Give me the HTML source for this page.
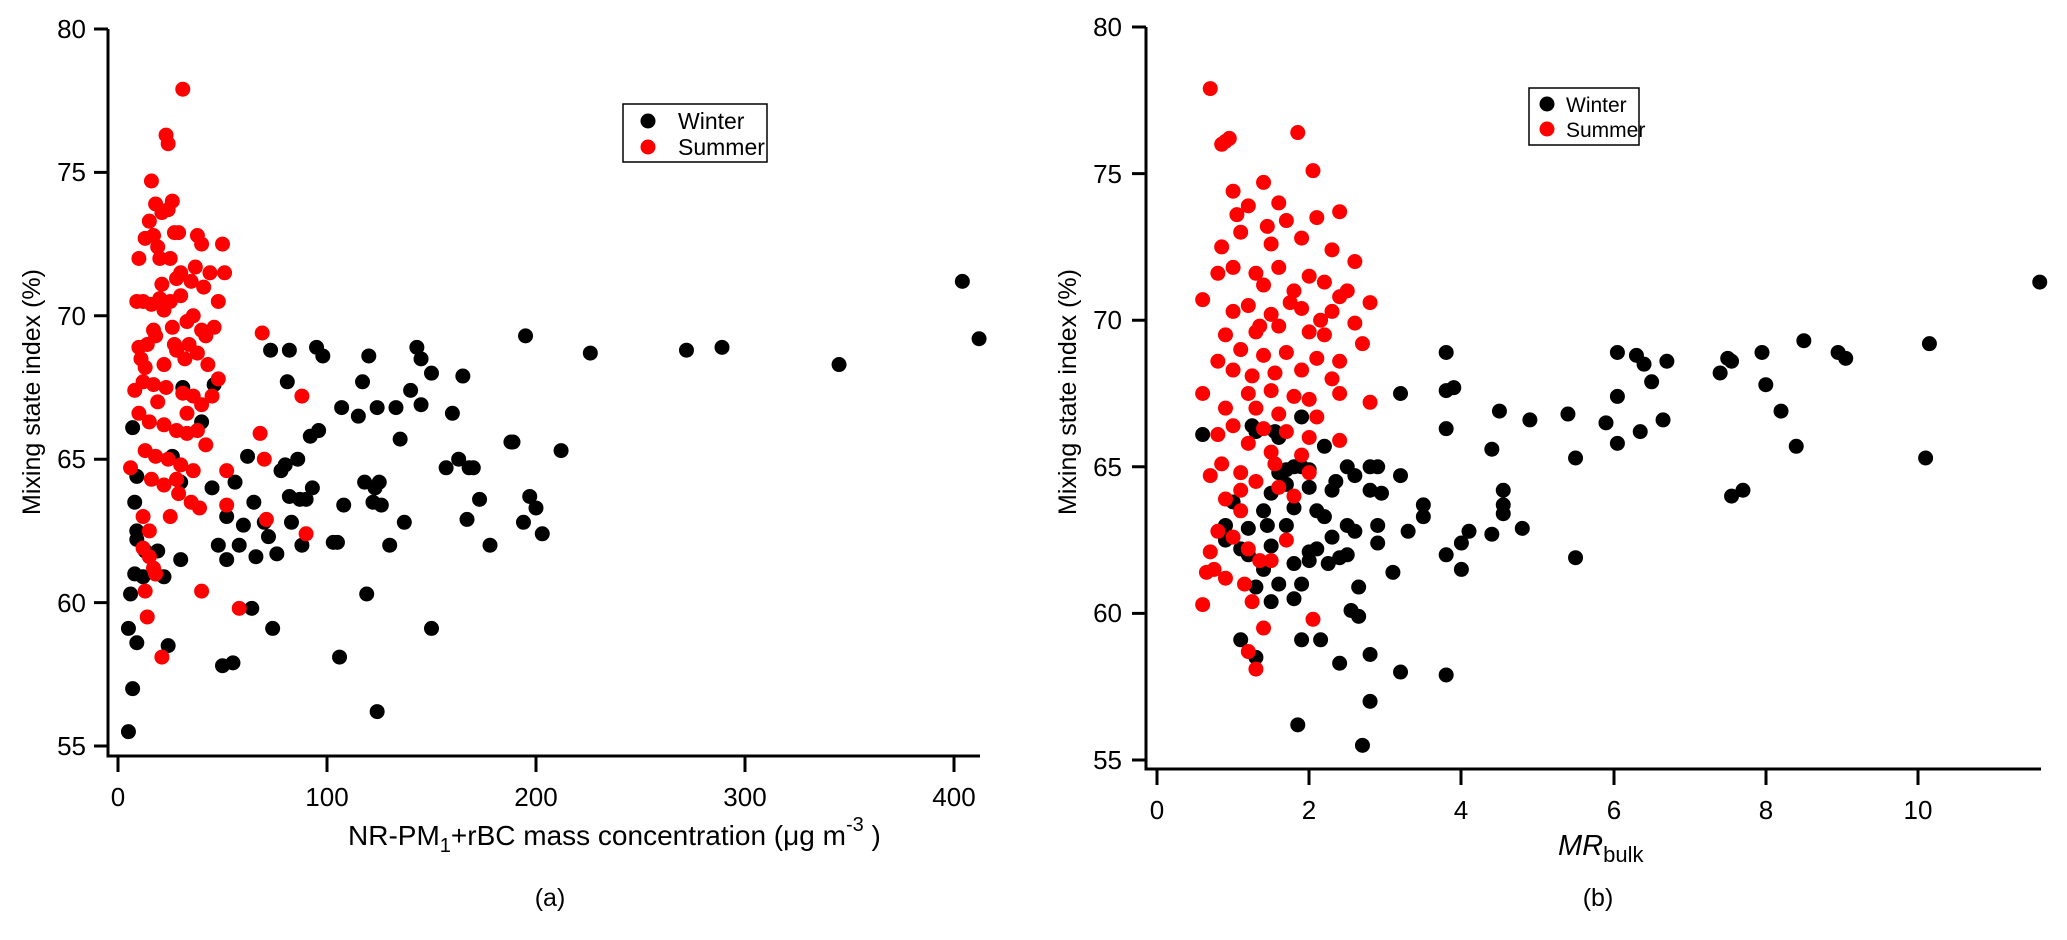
<!DOCTYPE html>
<html><head><meta charset="utf-8"><style>
html,body{margin:0;padding:0;background:#fff;}
svg{display:block;font-family:"Liberation Sans",Arial,sans-serif;}
</style></head><body>
<svg width="2067" height="940" viewBox="0 0 2067 940" xmlns="http://www.w3.org/2000/svg">
<g stroke="#000" stroke-width="3" fill="none">
<path d="M108 29 V756 H980"/>
<path d="M94 29H108M94 172.4H108M94 315.8H108M94 459.2H108M94 602.6H108M94 746H108"/>
<path d="M118 756V772M327 756V772M536 756V772M745 756V772M954 756V772"/>
<path d="M1146 27 V769 H2041"/>
<path d="M1132 27H1146M1132 173.6H1146M1132 320.2H1146M1132 466.8H1146M1132 613.4H1146M1132 760H1146"/>
<path d="M1157 769V785M1309 769V785M1461 769V785M1614 769V785M1766 769V785M1918 769V785"/>
</g>
<g font-size="26" fill="#000" text-anchor="end">
<text x="86" y="38">80</text><text x="86" y="181">75</text><text x="86" y="325">70</text><text x="86" y="468">65</text><text x="86" y="612">60</text><text x="86" y="755">55</text>
<text x="1122" y="36">80</text><text x="1122" y="183">75</text><text x="1122" y="329">70</text><text x="1122" y="476">65</text><text x="1122" y="622">60</text><text x="1122" y="769">55</text>
</g>
<g font-size="26" fill="#000" text-anchor="middle">
<text x="118" y="806">0</text><text x="327" y="806">100</text><text x="536" y="806">200</text><text x="745" y="806">300</text><text x="954" y="806">400</text>
<text x="1157" y="819">0</text><text x="1309" y="819">2</text><text x="1461" y="819">4</text><text x="1614" y="819">6</text><text x="1766" y="819">8</text><text x="1918" y="819">10</text>
</g>
<text x="348" y="845" font-size="28">NR-PM<tspan font-size="20" dy="7">1</tspan><tspan dy="-7">+rBC mass concentration (μg m</tspan><tspan font-size="20" dy="-14">-3</tspan><tspan dy="14"> )</tspan></text>
<text x="1558" y="855" font-size="29" font-style="italic">MR<tspan font-style="normal" font-size="22" dy="7">bulk</tspan></text>
<text x="550" y="906" font-size="25" text-anchor="middle">(a)</text>
<text x="1598" y="906" font-size="25" text-anchor="middle">(b)</text>
<text transform="translate(40 392) rotate(-90)" font-size="25" text-anchor="middle">Mixing state index (%)</text>
<text transform="translate(1076 392) rotate(-90)" font-size="25" text-anchor="middle">Mixing state index (%)</text>

<rect x="623" y="104" width="144" height="58" fill="#fff" stroke="#000" stroke-width="1.5"/>
<circle cx="648" cy="121" r="7.5" fill="#000"/><circle cx="648" cy="147" r="7.5" fill="#f00"/>
<text x="678" y="129" font-size="23">Winter</text><text x="678" y="155" font-size="23">Summer</text>
<rect x="1529" y="88" width="110" height="57" fill="#fff" stroke="#000" stroke-width="1.5"/>
<circle cx="1547" cy="104" r="7.5" fill="#000"/><circle cx="1547" cy="129" r="7.5" fill="#f00"/>
<text x="1566" y="112" font-size="21">Winter</text><text x="1566" y="137" font-size="21">Summer</text>

<g transform="matrix(2.09 0 0 -28.68 118 2323.4)" fill="none" stroke-linecap="round">
<path vector-effect="non-scaling-stroke" stroke="#000" stroke-width="15" d="M5 55.5h0M7 57h0M5 59.1h0M9 58.6h0M6 60.3h0M8 61h0M12 60.9h0M18 61h0M22 60.9h0M30 61.5h0M7 66.1h0M9 64.4h0M8 63.5h0M9 62.5h0M9 62.2h0M13 61.8h0M19 61.8h0M24 58.5h0M26 65.1h0M30 64.2h0M31 67.5h0M40 66.3h0M46 67.6h0M45 64h0M48 62h0M50 57.8h0M52 61.5h0M55 57.9h0M52 63h0M56 64.2h0M58 62h0M60 62.7h0M62 65.1h0M64 59.8h0M66 61.6h0M65 63.5h0M70 62.8h0M72 62.3h0M73 68.8h0M74 59.1h0M76 61.7h0M78 64.6h0M80 64.8h0M82 68.8h0M81 67.7h0M82 63.7h0M83 62.8h0M86 65h0M87 63.6h0M88 62h0M90 63.6h0M92 65.8h0M93 64h0M95 68.9h0M96 66h0M98 68.6h0M103 62.1h0M105 62.1h0M106 58.1h0M107 66.8h0M108 63.4h0M115 66.5h0M117 67.7h0M118 64.2h0M119 60.3h0M120 68.6h0M122 63.5h0M123 64h0M124 56.2h0M125 64.2h0M126 63.4h0M124 66.8h0M130 62h0M133 66.8h0M135 65.7h0M137 62.8h0M140 67.4h0M143 68.9h0M145 66.9h0M145 68.5h0M150 59.1h0M150 68h0M157 64.7h0M160 66.6h0M163 65h0M165 67.9h0M167 62.9h0M168 64.7h0M170 64.7h0M173 63.6h0M178 62h0M188 65.6h0M189 65.6h0M195 69.3h0M194 62.8h0M197 63.7h0M200 63.3h0M203 62.4h0M212 65.3h0M226 68.7h0M272 68.8h0M289 68.9h0M345 68.3h0M404 71.2h0M412 69.2h0"/>
<path vector-effect="non-scaling-stroke" stroke="#f00" stroke-width="15" d="M31 77.9h0M23 76.3h0M24 76h0M16 74.7h0M18 73.9h0M21 73.6h0M24 73.7h0M15 73.3h0M17 72.8h0M13 72.7h0M19 72.4h0M10 72h0M27 72.9h0M38 72.8h0M40 72.5h0M50 72.5h0M51 71.5h0M30 71.5h0M35 71.2h0M28 71.3h0M21 71.1h0M25 70.5h0M20 70.6h0M9 70.5h0M12 70.5h0M16 70.4h0M22 70.2h0M30 70.7h0M36 70h0M40 69.5h0M46 69.6h0M48 70.5h0M33 69.8h0M26 69.6h0M18 69.3h0M14 69h0M10 68.9h0M13 68.2h0M22 68.3h0M28 68.8h0M32 68.5h0M38 68.7h0M43 68.3h0M48 67.8h0M12 67.7h0M17 67.6h0M23 67.5h0M31 67.3h0M36 67.2h0M40 66.9h0M45 67.2h0M8 67.4h0M10 66.6h0M15 66.3h0M22 66.2h0M28 66h0M33 65.9h0M38 66h0M42 65.5h0M13 65.3h0M18 65.1h0M24 65h0M30 64.8h0M36 64.6h0M16 64.3h0M22 64.1h0M29 63.8h0M35 63.5h0M39 63.3h0M6 64.7h0M12 63h0M15 62.5h0M12 61.9h0M15 61.6h0M17 61.2h0M18 61h0M13 60.4h0M14 59.5h0M21 58.1h0M40 60.4h0M58 59.8h0M69 69.4h0M68 65.9h0M70 65h0M52 64.6h0M52 63.4h0M71 62.9h0M88 67.2h0M90 62.4h0M25 72h0M20 72h0M27 69h0M34 69h0M26 74h0M11 68.5h0M19 67h0M25 63h0M44 71.5h0M42 69.3h0M37 71.7h0M41 71h0M33 66.6h0M29 72.9h0M17 69.5h0M28 64.3h0"/>
</g>

<g transform="matrix(76.1 0 0 -29.32 1157 2372.6)" fill="none" stroke-linecap="round">
<path vector-effect="non-scaling-stroke" stroke="#000" stroke-width="15" d="M0.6 66.1h0M0.9 62.5h0M0.9 63h0M1 63.8h0M1.1 62.2h0M1.2 62h0M1.1 59.1h0M1.3 58.5h0M1.25 66.4h0M1.3 66.2h0M1.4 63.5h0M1.4 61.5h0M1.5 62.3h0M1.5 64.1h0M1.6 64.8h0M1.6 66h0M1.7 64.4h0M1.7 63h0M1.8 63.6h0M1.8 61.7h0M1.8 60.5h0M1.85 56.2h0M1.9 66.7h0M1.9 65h0M1.9 61h0M1.9 59.1h0M2 64.3h0M2 64.9h0M2 62.1h0M2 61.8h0M2.1 62.2h0M2.15 59.1h0M2.2 65.7h0M2.2 63.3h0M2.25 61.7h0M2.3 64.2h0M2.3 62.6h0M2.4 61.9h0M2.4 58.3h0M2.5 65h0M2.5 63h0M2.5 62h0M2.55 60.1h0M2.6 64.7h0M2.6 62.8h0M2.65 59.9h0M2.65 60.9h0M2.7 55.5h0M2.8 58.6h0M2.8 57h0M2.8 65h0M2.8 64.2h0M2.9 63h0M2.9 65h0M2.95 64.1h0M2.9 62.4h0M3.2 67.5h0M3.2 64.7h0M3.1 61.4h0M3.2 58h0M3.3 62.8h0M3.5 63.7h0M3.5 63.3h0M3.8 68.9h0M3.8 67.6h0M3.9 67.7h0M3.8 66.3h0M3.8 62h0M3.8 57.9h0M4 61.5h0M4 62.4h0M4.1 62.8h0M4.4 62.7h0M4.4 65.6h0M4.5 66.9h0M4.55 64.2h0M4.55 63.7h0M4.55 63.4h0M4.8 62.9h0M4.9 66.6h0M5.4 66.8h0M5.5 65.3h0M5.5 61.9h0M5.9 66.5h0M6.05 68.9h0M6.05 67.4h0M6.05 65.8h0M6.3 68.8h0M6.4 68.5h0M6.35 66.2h0M6.5 67.9h0M6.7 68.6h0M6.65 66.6h0M7.4 68.2h0M7.5 68.7h0M7.55 68.6h0M7.55 64h0M7.7 64.2h0M7.95 68.9h0M8 67.8h0M8.2 66.9h0M8.4 65.7h0M8.5 69.3h0M8.95 68.9h0M9.05 68.7h0M10.1 65.3h0M10.15 69.2h0M11.6 71.3h0M1.2 62.9h0M1.5 60.4h0M1.7 64.9h0M1.8 65h0M2.1 63.5h0M1.6 61h0M1.3 60.9h0M2.35 64.5h0M1.45 63h0M1.55 66.2h0"/>
<path vector-effect="non-scaling-stroke" stroke="#f00" stroke-width="15" d="M0.7 77.9h0M0.85 76h0M0.95 76.2h0M0.9 76.1h0M1.85 76.4h0M2.05 75.1h0M1.4 74.7h0M1.6 74h0M1.05 73.6h0M1.2 73.9h0M1.7 73.4h0M2.1 73.5h0M2.4 73.7h0M0.85 72.5h0M1.1 73h0M1.5 72.6h0M1.9 72.8h0M2.3 72.4h0M2.6 72h0M1 71.8h0M1.3 71.6h0M1.6 71.8h0M2 71.5h0M2.2 71.3h0M0.8 71.6h0M1.4 71.2h0M1.8 71h0M2.4 70.8h0M2.8 70.6h0M0.6 70.7h0M1 70.3h0M1.2 70.5h0M1.5 70.2h0M1.9 70.4h0M2.3 70.3h0M2.6 69.9h0M0.9 69.5h0M1.3 69.6h0M1.6 69.8h0M2 69.6h0M2.2 69.5h0M2.7 69.2h0M1.1 69h0M1.4 68.8h0M1.7 68.9h0M2.1 68.7h0M2.4 68.6h0M0.8 68.6h0M1 68.3h0M1.25 68.1h0M1.55 68.2h0M1.9 68.3h0M2.3 68h0M1.2 67.5h0M1.5 67.6h0M1.8 67.4h0M2 67.3h0M2.4 67.5h0M2.8 67.2h0M0.6 67.5h0M0.9 67h0M1.3 67h0M1.6 66.8h0M2.1 66.7h0M1 66.4h0M1.4 66.3h0M1.7 66.2h0M2 66h0M2.4 65.9h0M0.8 66.1h0M1.2 65.8h0M1.5 65.5h0M1.9 65.4h0M0.85 65.1h0M1.1 64.8h0M0.7 64.7h0M1.3 64.5h0M1.6 64.3h0M2 64.8h0M0.9 63.9h0M1.1 64.2h0M0.8 62.8h0M1 62.6h0M1.2 62.2h0M0.7 62.1h0M1.35 61.8h0M0.65 61.4h0M0.75 61.5h0M0.9 61.2h0M1.15 61h0M0.6 60.3h0M1.25 60.4h0M2.05 59.8h0M1.4 59.5h0M1.2 58.7h0M1.3 58.1h0M1.5 61.8h0M1.7 62.5h0M1.1 63.5h0M1.35 69.8h0M1.75 70.6h0M2.15 70h0M1.45 73.2h0M1 74.4h0M2.5 71h0M1.55 65.1h0M1.8 64h0"/>
</g>
</svg>
</body></html>
